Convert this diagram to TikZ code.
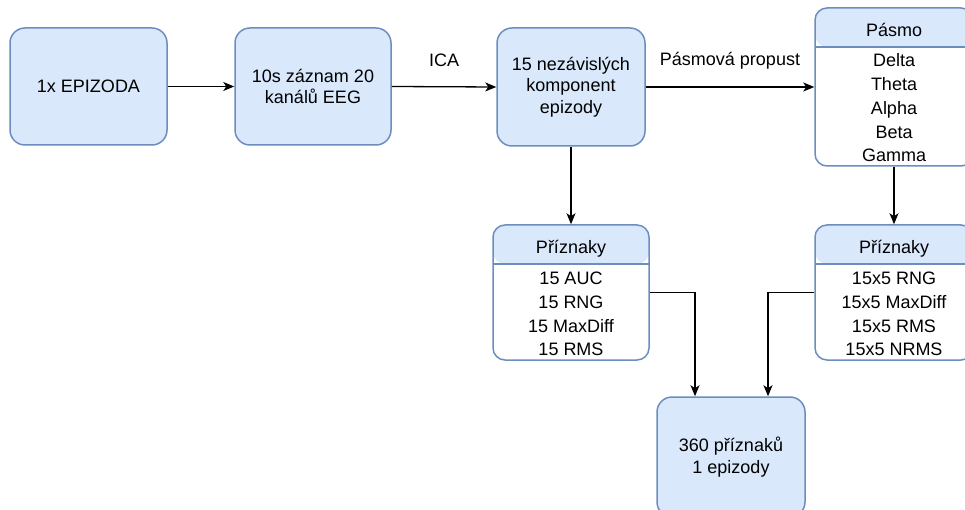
\documentclass[tikz,border=0pt]{standalone}
\usepackage{fontspec}
\setmainfont{Liberation Sans}
\usetikzlibrary{arrows.meta,calc}
\definecolor{bfill}{HTML}{DAE8FC}
\definecolor{bline}{HTML}{6C8EBF}
\begin{document}
\begin{tikzpicture}[x=1pt,y=-1pt,
  box/.style={draw=bline, fill=bfill, line width=1.5pt, rounded corners=15pt,
    align=center, font=\fontsize{18}{21.6}\selectfont, inner sep=0pt},
  lane/.style={draw=bline, line width=1.5pt, rounded corners=12pt, inner sep=0pt,
    minimum width=158pt,
    path picture={
      \fill[bfill] (path picture bounding box.north west) rectangle
        ([yshift=-39pt]path picture bounding box.north east);
      \draw[bline, line width=1.5pt] ([yshift=-39pt]path picture bounding box.north west)
        -- ([yshift=-39pt]path picture bounding box.north east);}},
  txt/.style={align=center, font=\fontsize{18}{23.7}\selectfont, inner sep=0pt},
  lbl/.style={font=\fontsize{18}{21.6}\selectfont, inner sep=0pt},
  arr/.style={-{Stealth[length=11pt,width=9pt,inset=3pt]}, line width=1.3pt, black},
]
\useasboundingbox (0,0) rectangle (965,510);
\clip (0,0) rectangle (965,510);

% main boxes
\node[box, minimum width=157pt, minimum height=117pt] (b1) at (88.5,86.5) {1x EPIZODA};
\node[box, minimum width=156pt, minimum height=117pt] (b2) at (313,86.5) {10s záznam 20\\kanálů EEG};
\node[box, minimum width=148pt, minimum height=118pt] (b3) at (571,87) {15 nezávislých\\komponent\\epizody};
\node[box, minimum width=148pt, minimum height=120pt] (b4) at (731,457) {360 příznaků\\ 1 epizody};

% swimlane boxes
\node[lane, minimum height=158pt] (pasmo) at (894,87) {};
\node[txt] (pasmoh) at (894,30.3) {Pásmo};
\node[txt] (pasmob) at (894,107.9) {Delta\\Theta\\Alpha\\Beta\\Gamma};

\node[lane, minimum width=156pt, minimum height=135pt] (p1) at (571,292.5) {};
\node[txt] (p1h) at (571,248.3) {Příznaky};
\node[txt] (p1b) at (571,314.2) {15 AUC\\15 RNG\\15 MaxDiff\\15 RMS};

\node[lane, minimum height=135pt] (p2) at (894,292.5) {};
\node[txt] (p2h) at (894,248.3) {Příznaky};
\node[txt] (p2b) at (894,314.2) {15x5 RNG\\15x5 MaxDiff\\15x5 RMS\\15x5 NRMS};

% connectors
\draw[arr] (b1.east) -- (b2.west);
\draw[arr] (b2.east) -- (b3.west);
\draw[arr] (b3.east) -- (pasmo.west);
\draw[arr] (b3.south) -- (p1.north);
\draw[arr] (pasmo.south) -- (p2.north);
\draw[arr] (p1.east) -| ([xshift=-36pt]b4.north);
\draw[arr] (p2.west) -| ([xshift=37pt]b4.north);

% labels
\node[lbl] (ica) at (444,60) {ICA};
\node[lbl] (bp) at (730,60.3) {Pásmová propust};
\end{tikzpicture}
\end{document}
